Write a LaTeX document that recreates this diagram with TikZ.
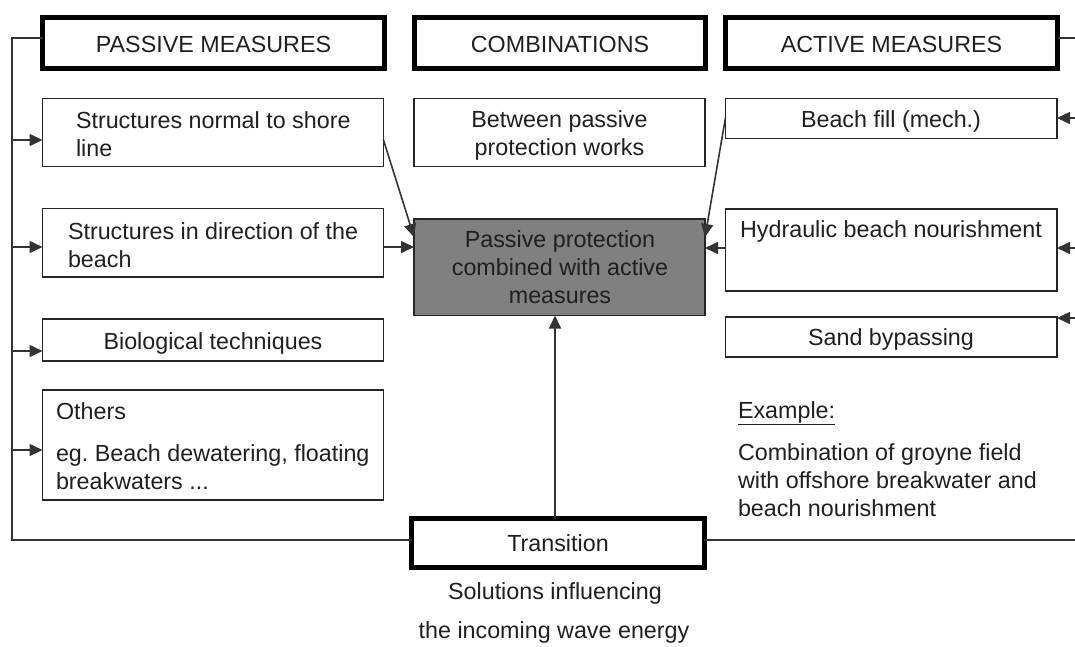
\documentclass[tikz,border=0pt]{standalone}
\usepackage{fontspec}
\setmainfont{Liberation Sans}
\usetikzlibrary{arrows.meta,calc}
\begin{document}
\begin{tikzpicture}[x=1pt,y=-1pt,
  every node/.style={font=\fontsize{23.3}{28}\selectfont\frenchspacing, text=black!88, inner sep=0pt, outer sep=0pt},
  thinbox/.style={draw=black!85, line width=1.6pt, anchor=north west},
  thickbox/.style={draw=black, line width=5pt, anchor=north west},
  ln/.style={draw=black!80, line width=1.6pt},
  arr/.style={ln, -{Triangle[length=13pt,width=12pt]}},
  lt/.style={anchor=base west},
  ct/.style={anchor=base}]
\useasboundingbox (0,0) rectangle (1075,646);

% header boxes
\node[thickbox, minimum width=342pt, minimum height=50.7pt] (pm) at (42.5,17.5) {};
\node[thickbox, minimum width=291.6pt, minimum height=50.7pt] (cb) at (414.2,17.5) {};
\node[thickbox, minimum width=331.7pt, minimum height=50.7pt] (am) at (725.8,17.5) {};
\node[thickbox, minimum width=292.4pt, minimum height=49pt] (tr) at (411.8,518.5) {};

% passive boxes
\node[thinbox, minimum width=341pt, minimum height=68pt] (sn) at (42.5,98.5) {};
\node[thinbox, minimum width=341pt, minimum height=68.5pt] (sd) at (42.5,208.5) {};
\node[thinbox, minimum width=341pt, minimum height=42pt] (bio) at (42.5,319) {};
\node[thinbox, minimum width=341pt, minimum height=110pt] (oth) at (42.5,390) {};

% combination boxes
\node[thinbox, minimum width=291pt, minimum height=68pt] (btw) at (414,98.5) {};
\node[thinbox, fill=black!50, minimum width=291pt, minimum height=96.5pt] (ctr) at (414,219) {};

% active boxes
\node[thinbox, minimum width=331.5pt, minimum height=40pt] (bf) at (725.5,98.5) {};
\node[thinbox, minimum width=331.5pt, minimum height=82pt] (hy) at (725.5,209) {};
\node[thinbox, minimum width=331.5pt, minimum height=40pt] (sb) at (725.5,317) {};

% texts
\node[ct] (t1) at (213.5,52) {PASSIVE MEASURES};
\node[ct] (t2) at (560,52) {COMBINATIONS};
\node[ct] (t3) at (891.5,52) {ACTIVE MEASURES};
\node[lt] (t4) at (76,128) {Structures normal to shore};
\node[lt] (t5) at (76,156) {line};
\node[lt] (t6) at (68,239) {Structures in direction of the};
\node[lt] (t7) at (68,267) {beach};
\node[ct] (t8) at (213,349) {Biological techniques};
\node[lt] (t9) at (56,419) {Others};
\node[lt] (t10) at (56,461) {eg. Beach dewatering, floating};
\node[lt] (t11) at (56,489) {breakwaters ...};
\node[ct] (t12) at (559.5,127) {Between passive};
\node[ct] (t13) at (559.5,155) {protection works};
\node[ct] (t14) at (560,247) {Passive protection};
\node[ct] (t15) at (560,275) {combined with active};
\node[ct] (t16) at (560,303) {measures};
\node[ct] (t17) at (891,127) {Beach fill (mech.)};
\node[ct] (t18) at (891,237) {Hydraulic beach nourishment};
\node[ct] (t19) at (891,345) {Sand bypassing};
\node[lt] (t20) at (738,418) {\underline{Example:}};
\node[lt] (t21) at (738,460) {Combination of groyne field};
\node[lt] (t22) at (738,488) {with offshore breakwater and};
\node[lt] (t23) at (738,516) {beach nourishment};
\node[ct] (t24) at (558,551.5) {Transition};
\node[ct] (t25) at (555,599) {Solutions influencing};
\node[ct] (t26) at (554,638) {the incoming wave energy};

% left bus
\coordinate (ltop) at (12,38);
\coordinate (lbot) at (12,540);
\draw[ln] (ltop -| pm.west) -- (ltop) -- (lbot) -- (lbot -| tr.west);
\coordinate (a1) at (12,140);
\coordinate (a2) at (12,247);
\coordinate (a3) at (12,351);
\coordinate (a4) at (12,450);
\draw[arr] (a1) -- (a1 -| sn.west);
\draw[arr] (a2) -- (a2 -| sd.west);
\draw[arr] (a3) -- (a3 -| bio.west);
\draw[arr] (a4) -- (a4 -| oth.west);

% right bus (off picture)
\coordinate (rtop) at (1075,38);
\coordinate (rbot) at (1075,540);
\draw[ln] (rtop -| am.east) -- (rtop);
\draw[ln] (rbot -| tr.east) -- (rbot);
\coordinate (b1) at (1075,118);
\coordinate (b2) at (1075,248);
\coordinate (b3) at (1075,318);
\draw[arr] (b1) -- (b1 -| bf.east);
\draw[arr] (b2) -- (b2 -| hy.east);
\draw[arr] (b3) -- (b3 -| sb.east);

% into the centre box
\draw[arr] ($(sn.east)+(0,7.5)$) -- ($(ctr.north west)+(0,18)$);
\draw[arr] ($(bf.west)+(0,-1)$) -- ($(ctr.north east)+(0,18)$);
\draw[arr] (a2 -| sd.east) -- (a2 -| ctr.west);
\draw[arr] (b2 -| hy.west) -- (b2 -| ctr.east);
\coordinate (vx) at (555,0);
\draw[arr] (vx |- tr.north) -- (vx |- ctr.south);
\end{tikzpicture}
\end{document}
